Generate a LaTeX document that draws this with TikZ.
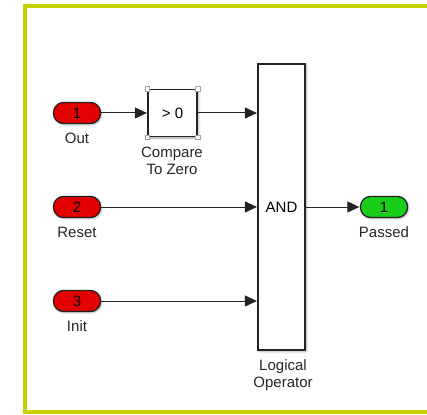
\documentclass[tikz,border=0pt]{standalone}
\usepackage{fontspec}
\setmainfont{Liberation Sans}
\usepackage{tikz}
\usetikzlibrary{arrows.meta,positioning,calc,shadows.blur}
\definecolor{slFrame}{RGB}{200,210,0}
\definecolor{slRed}{RGB}{226,0,0}
\definecolor{slGreen}{RGB}{24,206,24}
\definecolor{slLine}{RGB}{35,35,35}
\tikzset{
  slPort/.style={draw=slLine, line width=1.3pt, rounded corners=10pt,
    minimum width=47pt, minimum height=21pt, inner sep=0pt,
    font=\fontsize{15}{17}\selectfont,
    blur shadow={shadow xshift=1pt, shadow yshift=-1pt, shadow blur steps=3, shadow opacity=35}},
  slIn/.style={slPort, fill=slRed},
  slOut/.style={slPort, fill=slGreen},
  slBlock/.style={draw=slLine, line width=1.2pt, fill=white, inner sep=0pt,
    font=\fontsize{15}{17}\selectfont,
    blur shadow={shadow xshift=1.5pt, shadow yshift=-1.5pt, shadow blur steps=3, shadow opacity=35}},
  slLabel/.style={font=\fontsize{15}{17}\selectfont, text=black!85, align=center, inner sep=0pt},
  slHandle/.style={draw=gray!70, fill=white, line width=0.6pt, minimum size=4.5pt, inner sep=0pt},
  %% Signal lines
  slSig/.style={-{Triangle[length=12pt,width=11pt]}, slLine, line width=1pt, shorten >=0.5pt},
}
\begin{document}
\begin{tikzpicture}[x=1pt, y=-1pt]
\useasboundingbox (0,0) rectangle (427,414);
%% Frame
\draw[slFrame, line width=4pt] (25,6) rectangle (440,412);

%% Ports
\node[slIn]  (pIn1) at (77,113) {1};
\node[slIn]  (pIn2) at (77,207) {2};
\node[slIn]  (pIn3) at (77,301) {3};
\node[slOut] (pOut) at (384,207) {1};

\node[slLabel] (lOut)    at (77,138)  {Out};
\node[slLabel] (lReset)  at (77,232)  {Reset};
\node[slLabel] (lInit)   at (77,326)  {Init};
\node[slLabel] (lPassed) at (384,232) {Passed};

%% Blocks
\node[slBlock, minimum width=49pt, minimum height=47pt] (bCmp) at (172.5,113) {> 0};
\foreach \c in {north west, north east, south west, south east}
  \node[slHandle] at (bCmp.\c) {};
\node[slLabel] (lCmp) at (172,161) {Compare\\To Zero};

\node[slBlock, minimum width=47pt, minimum height=286pt] (bAnd) at (281.5,207) {AND};
\node[slLabel] (lAnd) at (283,375) {Logical\\Operator};

%% Signals
\draw[slSig] (pIn1.east) -- (bCmp.west);
\draw[slSig] (bCmp.east) -- (bAnd.west |- bCmp.east);
\draw[slSig] (pIn2.east) -- (bAnd.west |- pIn2.east);
\draw[slSig] (pIn3.east) -- (bAnd.west |- pIn3.east);
\draw[slSig] (bAnd.east |- pOut.west) -- (pOut.west);

\end{tikzpicture}
\end{document}
